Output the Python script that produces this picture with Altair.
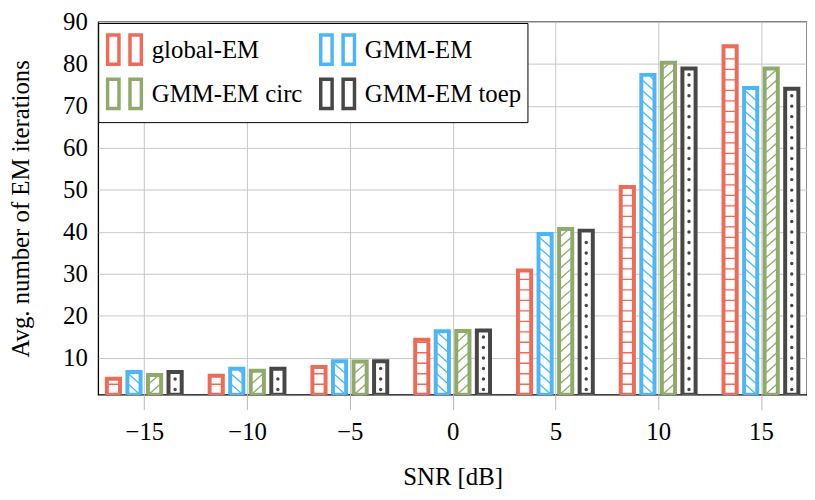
import altair as alt
import pandas as pd

# ---- data ----
snr = [-15, -10, -5, 0, 5, 10, 15]
series = ["global-EM", "GMM-EM", "GMM-EM circ", "GMM-EM toep"]
global_em = [5.0, 5.7, 7.8, 14.3, 30.8, 50.7, 84.2]
gmm_em = [6.6, 7.4, 9.2, 16.3, 39.5, 77.4, 74.3]
gmm_em_circ = [5.9, 6.9, 9.1, 16.4, 40.7, 80.3, 78.9]
gmm_em_toep = [6.6, 7.4, 9.2, 16.5, 40.3, 78.9, 74.1]
colors = ["#EE6B58", "#4DB6F7", "#8FAA6A", "#474747"]
patterns = ["hlines", "backslash", "slash", "dots"]

Y_MIN, Y_MAX = 1.2, 90
X_MIN, X_MAX = -17, 17
STEP = 2.5   # hatch spacing (data units)
HW = 0.3     # hatch half width (x units)
DY = 2.6     # diagonal rise (y units)

values = [global_em, gmm_em, gmm_em_circ, gmm_em_toep]
bar_rows, seg_rows, dot_rows = [], [], []


def clip_seg(xl, yl, xr, yr, lo, hi):
    if yl == yr:
        return (xl, yl, xr, yr) if lo <= yl <= hi else None
    t1 = (lo - yl) / (yr - yl)
    t2 = (hi - yl) / (yr - yl)
    a, b = max(0.0, min(t1, t2)), min(1.0, max(t1, t2))
    if a >= b:
        return None
    return (xl + a * (xr - xl), yl + a * (yr - yl), xl + b * (xr - xl), yl + b * (yr - yl))


for i, (name, vals, pat) in enumerate(zip(series, values, patterns)):
    for s, v in zip(snr, vals):
        xc = s + (i - 1.5)
        bar_rows.append({"series": name, "xc": xc, "v": v, "y0": Y_MIN})
        if pat == "hlines":
            k = 1
            while Y_MIN + k * STEP < v - 0.6:
                y = Y_MIN + k * STEP
                seg_rows.append({"hs": name, "xa": xc - HW, "xb": xc + HW, "ya": y, "yb": y})
                k += 1
        elif pat in ("slash", "backslash"):
            k = -2
            while Y_MIN + k * STEP < v:
                y = Y_MIN + k * STEP
                if pat == "slash":
                    seg = clip_seg(xc - HW, y, xc + HW, y + DY, Y_MIN, v)
                else:
                    seg = clip_seg(xc - HW, y + DY, xc + HW, y, Y_MIN, v)
                if seg:
                    seg_rows.append({"hs": name, "xa": seg[0], "ya": seg[1], "xb": seg[2], "yb": seg[3]})
                k += 1
        else:
            k = 0
            while Y_MIN + (k + 0.5) * STEP < v - 0.8:
                dot_rows.append({"hs": name, "xc": xc, "y": Y_MIN + (k + 0.5) * STEP})
                k += 1

bars = pd.DataFrame(bar_rows)
segs = pd.DataFrame(seg_rows)
dots = pd.DataFrame(dot_rows)

FONT = "Liberation Serif"
xscale = alt.Scale(domain=[X_MIN, X_MAX], nice=False, zero=False)
yscale = alt.Scale(domain=[Y_MIN, Y_MAX], nice=False, zero=False)
xaxis = alt.Axis(values=snr, title="SNR [dB]", grid=True, gridColor="#c6c6c6",
                 domain=False, tickSize=15, tickColor="#b8b8b8", labelPadding=10,
                 labelFont=FONT, labelFontSize=25, labelColor="black",
                 titleFont=FONT, titleFontSize=25, titleFontWeight="normal",
                 titleColor="black", titlePadding=21)
yaxis = alt.Axis(values=list(range(10, 91, 10)), title="Avg. number of EM iterations",
                 grid=True, gridColor="#c6c6c6", domain=False, tickSize=0,
                 labelPadding=11, labelFont=FONT, labelFontSize=25, labelColor="black",
                 titleFont=FONT, titleFontSize=25, titleFontWeight="normal",
                 titleColor="black", titlePadding=29)
cscale = alt.Scale(domain=series, range=colors)

ES = "\u2002"  # en space used to centre the short legend labels
base_bars = alt.Chart(bars)
fill_layer = base_bars.mark_bar(size=13.3, fill="white", clip=True).encode(
    x=alt.X("xc:Q", scale=xscale, axis=xaxis),
    y=alt.Y("v:Q", scale=yscale, axis=yaxis),
    y2="y0:Q",
)
hatch_layer = alt.Chart(segs).mark_rule(strokeWidth=1.3, clip=True).encode(
    x=alt.X("xa:Q", scale=xscale, axis=xaxis),
    x2="xb:Q",
    y=alt.Y("ya:Q", scale=yscale, axis=yaxis),
    y2="yb:Q",
    color=alt.Color("hs:N", scale=cscale, legend=None),
)
dot_layer = alt.Chart(dots).mark_circle(size=12, opacity=1, clip=True).encode(
    x=alt.X("xc:Q", scale=xscale, axis=xaxis),
    y=alt.Y("y:Q", scale=yscale, axis=yaxis),
    color=alt.Color("hs:N", scale=cscale, legend=None),
)
legend = alt.Legend(
    orient="none", legendX=0, legendY=1, columns=2, direction="horizontal", title=None,
    fillColor="white", strokeColor="black", padding=6,
    labelFont=FONT, labelFontSize=25, labelColor="black", labelOffset=7,
    labelExpr=f"indexof(datum.label, ' ') < 0 ? '{ES * 2}' + datum.label : datum.label",
    symbolType="M-0.92,-0.8H-0.3V0.8H-0.92Z M0.3,-0.8H0.92V0.8H0.3Z",
    symbolSize=1369, symbolStrokeWidth=3.5, symbolFillColor="white",
    rowPadding=0, columnPadding=10,
)
outline_layer = base_bars.mark_bar(size=13.3, fill="white", fillOpacity=0, strokeWidth=4,
                                   clip=True).encode(
    x=alt.X("xc:Q", scale=xscale, axis=xaxis),
    y=alt.Y("v:Q", scale=yscale, axis=yaxis),
    y2="y0:Q",
    stroke=alt.Stroke("series:N", scale=cscale, legend=legend),
)

chart = alt.layer(fill_layer, hatch_layer, dot_layer, outline_layer).properties(
    width=715, height=376,
    autosize=alt.AutoSizeParams(type="none"),
    padding={"left": 91, "top": 12, "right": 0, "bottom": 96},
).resolve_scale(color="independent", stroke="independent").configure_view(
    stroke="black", strokeWidth=1.3)

chart.save("out.html", embed_options={"renderer": "svg", "actions": False})
